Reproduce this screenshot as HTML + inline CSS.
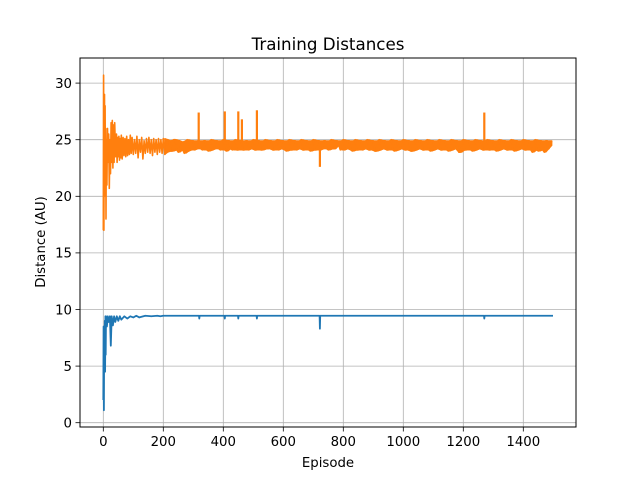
<!DOCTYPE html>
<html><head><meta charset="utf-8"><style>
html,body{margin:0;padding:0;background:#fff;}
svg{display:block;font-family:"DejaVu Sans","Liberation Sans",sans-serif;}
</style></head><body>
<svg id="chart" width="640" height="480" viewBox="0 0 640 480" xmlns="http://www.w3.org/2000/svg">
<rect x="0" y="0" width="640" height="480" fill="#fff"/>
<g id="grid"></g>
<g id="series"></g>
<rect x="80" y="58" width="496" height="369" fill="none" stroke="#000" stroke-width="1"/>
<g id="ticks"></g>
<text x="328" y="50" text-anchor="middle" font-size="16.7" fill="#000">Training Distances</text>
<text x="328" y="467" text-anchor="middle" font-size="13.3" fill="#000">Episode</text>
<text x="45" y="242" text-anchor="middle" font-size="13.3" fill="#000" transform="rotate(-90 45 242)">Distance (AU)</text>
</svg>
<script>
const xTicks = [0, 200, 400, 600, 800, 1000, 1200, 1400];
const yTicks = [0, 5, 10, 15, 20, 25, 30];
const orangeEarlyEp = [0,1,2,3,4,5,6,7,8,9,10,12,14,16,18,20,22,24,26,28,30,32,34,36,38,41,44,46,48,50,52,54,56,58,60,63,66,69,72,75,78,81,84,87,90,93,96,100,104,108,112,116,120,124,128,132,136,140,144,148,152,156,160,164,168,172,176,180,184,188,192,196];
const orangeEarlyVal = [17,30.7,17,25.5,29,20,28,22,26,18,25,21,26,23,25.5,20.7,25,22,26.5,23,26.7,22.5,26.3,23,26.5,23.5,25.5,23,25.2,23.5,25.3,23.2,25.1,23.4,25.4,23.3,25.2,23.6,25.1,23.5,25.3,23.6,25.0,23.7,25.4,23.8,25.2,23.7,25.0,23.8,25.3,23.4,25.0,23.9,25.2,23.3,24.9,23.8,25.1,23.9,25.2,23.8,25.0,23.6,25.1,23.9,25.0,23.7,25.1,23.9,25.0,23.8];
const orangeSteadyStart = 200, orangeStep = 10;
const orangeHi = [
25.1,25.0,24.9,25.0,25.0,24.9,24.8,24.9,25.0,24.9,
24.9,24.9,24.9,24.9,24.9,24.9,25.0,24.9,24.9,24.9,
25.0,24.9,24.9,24.9,25.0,24.9,24.9,24.9,24.9,24.9,
25.0,24.9,24.9,24.9,25.0,24.9,24.9,24.9,25.0,24.9,
24.9,24.9,25.0,24.9,24.9,24.9,25.0,24.9,24.9,24.9,
25.0,24.9,24.9,24.9,24.9,24.9,25.0,24.9,24.9,24.9,
25.0,24.9,24.9,24.9,25.0,24.9,24.9,24.9,25.0,24.9,
24.9,24.9,25.0,24.9,24.9,24.9,25.0,24.9,24.9,24.9,
25.0,24.9,24.9,24.9,25.0,24.9,24.9,24.9,25.0,24.9,
24.9,24.9,25.0,24.9,24.9,24.9,25.0,24.9,24.9,24.9,
25.0,24.9,24.9,24.9,25.0,24.9,24.9,24.9,25.0,24.9,
24.9,24.9,25.0,24.9,24.9,24.9,25.0,24.9,24.9,24.9,
25.0,24.9,24.9,24.9,25.0,24.9,24.9,24.9,24.9,24.9];
const orangeLo = [
23.7,23.9,24.0,24.0,24.1,23.9,24.1,23.8,24.0,24.1,
24.1,24.2,24.2,24.1,24.1,24.0,24.1,24.2,24.2,24.1,
24.1,24.0,24.2,24.1,24.1,24.1,24.1,24.1,24.1,24.2,
24.1,24.1,24.1,24.1,24.2,24.2,24.1,24.1,24.1,24.2,
24.1,24.0,24.1,24.1,24.1,24.2,24.1,24.1,24.1,24.0,
24.1,24.1,24.1,24.2,24.2,24.1,24.2,24.2,24.5,24.1,
24.1,24.2,24.1,24.0,24.1,24.1,24.1,24.2,24.1,24.1,
24.0,24.0,24.1,24.2,24.1,24.1,24.1,24.0,24.1,24.2,
24.1,24.1,24.0,24.0,24.1,24.2,24.1,24.1,24.1,24.0,
24.1,24.2,24.1,24.1,24.1,24.0,24.1,24.2,23.9,23.9,
24.1,24.1,24.1,24.0,24.1,24.2,24.1,24.1,24.1,24.1,
24.1,24.0,24.1,24.2,24.1,24.1,24.1,24.0,24.1,24.2,
24.1,24.1,24.1,23.9,24.1,24.0,24.1,23.9,24.2,24.5];
const orangeSpikeEp = [318, 405, 450, 462, 512, 722, 1270];
const orangeSpikeVal = [27.4, 27.5, 27.5, 26.8, 27.6, 22.6, 27.4];
const blueEarlyEp = [0,1,2,3,4,5,6,7,8,9,12,15,18,22,25,28,32,36,40,45,50,55,60,70,80,90,100,110,120,140,160,180,190,200];
const blueEarlyVal = [2,8.5,1.1,8.5,5,9,4.5,9.4,6,9.4,8.5,9.4,8.9,9.4,6.8,9.4,8.6,9.4,8.9,9.4,9.0,9.4,9.1,9.4,9.2,9.4,9.3,9.45,9.3,9.45,9.4,9.45,9.4,9.45];
const blueSteadyLevel = 9.45;
const blueEndEp = 1499;
const blueDipEp = [320, 405, 450, 512, 722, 1270];
const blueDipVal = [9.2, 9.2, 9.2, 9.2, 8.3, 9.2];

const X0 = 103.3, XS = 0.3, Y0 = 422.7, YS = 11.32;
function xs(v){ return X0 + v * XS; }
function ys(v){ return Y0 - v * YS; }
const NS = 'http://www.w3.org/2000/svg';
const grid = document.getElementById('grid');
const ticks = document.getElementById('ticks');
const series = document.getElementById('series');
function mk(tag, attrs, parent){ const e = document.createElementNS(NS, tag); for (const k in attrs) e.setAttribute(k, attrs[k]); parent.appendChild(e); return e; }

xTicks.forEach(t => {
  const x = xs(t);
  const g = mk('line', {x1:x, x2:x, y1:58, y2:427, stroke:'#b0b0b0', 'stroke-width':0.8}, grid);
  
  
  const tk = mk('line', {x1:x, x2:x, y1:427, y2:431.5, stroke:'#000', 'stroke-width':0.8}, ticks);
  
  
  const lb = mk('text', {x:x, y:446, 'text-anchor':'middle', 'font-size':13.3, fill:'#000'}, ticks);
  lb.textContent = t;
  
  
});
yTicks.forEach(t => {
  const y = ys(t);
  const g = mk('line', {x1:80, x2:576, y1:y, y2:y, stroke:'#b0b0b0', 'stroke-width':0.8}, grid);
  
  
  const tk = mk('line', {x1:75.5, x2:80, y1:y, y2:y, stroke:'#000', 'stroke-width':0.8}, ticks);
  
  
  const lb = mk('text', {x:72, y:y+4.8, 'text-anchor':'end', 'font-size':13.3, fill:'#000'}, ticks);
  lb.textContent = t;
  
  
});

function pathD(pts){ return pts.map((p,i) => (i ? 'L' : 'M') + xs(p[0]).toFixed(2) + ' ' + ys(p[1]).toFixed(2)).join(' '); }

const orangeEarlyPts = orangeEarlyEp.map((e,i) => [e, orangeEarlyVal[i]]);
const orangeZig = [];
orangeHi.forEach((h,i) => {
  const e = orangeSteadyStart + i*orangeStep;
  orangeZig.push([e, i % 2 ? orangeLo[i] : h]);
  orangeZig.push([e + orangeStep/2, i % 2 ? h : orangeLo[i]]);
});
const bandTop = orangeHi.map((h,i) => [orangeSteadyStart + i*orangeStep + orangeStep/2, h]);
const bandBot = orangeLo.map((l,i) => [orangeSteadyStart + i*orangeStep + orangeStep/2, l]).reverse();

const bluePts = blueEarlyEp.map((e,i) => [e, blueEarlyVal[i]]);
blueDipEp.forEach((e,i) => { bluePts.push([e-1, blueSteadyLevel]); bluePts.push([e, blueDipVal[i]]); bluePts.push([e+1, blueSteadyLevel]); });
bluePts.push([blueEndEp, blueSteadyLevel]);

const bl = mk('path', {d:pathD(bluePts), fill:'none', stroke:'#1f77b4', 'stroke-width':1.8, 'stroke-linejoin':'round'}, series);



const band = mk('path', {d:pathD(bandTop.concat(bandBot)) + ' Z', fill:'#ff7f0e', stroke:'#ff7f0e', 'stroke-width':1.2, 'stroke-linejoin':'round'}, series);



const oz = mk('path', {d:pathD(orangeEarlyPts.concat(orangeZig)), fill:'none', stroke:'#ff7f0e', 'stroke-width':1.6, 'stroke-linejoin':'round'}, series);



orangeSpikeEp.forEach((e,i) => {
  const base = orangeSpikeVal[i] > 24.5 ? 24.8 : 24.2;
  const s = mk('line', {x1:xs(e), x2:xs(e), y1:ys(base), y2:ys(orangeSpikeVal[i]), stroke:'#ff7f0e', 'stroke-width':2.2}, series);
  
  
});
</script>
</body></html>
